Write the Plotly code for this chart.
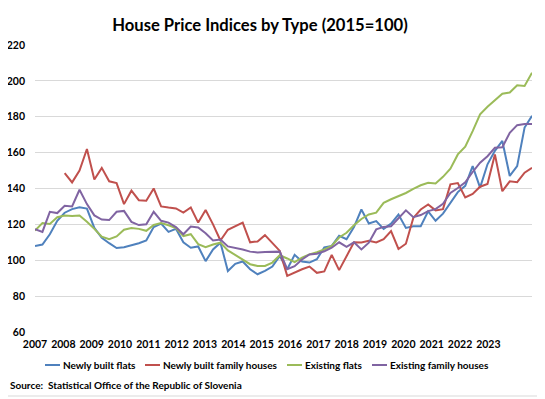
import plotly.graph_objects as go

# Quarterly observations 2007Q1 .. 2023Q4
years = [str(y) for y in range(2007, 2024)]
quarters = [f"{y}Q{q}" for y in range(2007, 2024) for q in range(1, 5)]

newly_built_flats = [
    108, 108.8, 114.5, 122, 126.5, 128.5, 129.5, 128.8, 118, 112.5,
    109.5, 106.8, 107.3, 108.3, 109.5, 111, 118.5, 120.5, 115.8, 117.5,
    110, 107, 107.7, 99.5, 106, 109.8, 94, 98, 99.3, 95,
    92.2, 94.1, 96.5, 102.4, 95, 103, 99.3, 98.7, 100.6, 107.1,
    108, 113.6, 111.7, 118.5, 128.3, 120.5, 121.8, 117.5, 120.4, 125.5,
    118, 119, 119, 127.3, 122, 126, 132, 138, 141.5, 152.5,
    140.5, 153.5, 161, 166.5, 147, 152.5, 174, 180.5,
]

newly_built_family_houses = [
    None, None, None, None,
    148.6, 143.4, 150, 162, 145, 151.5, 144, 143, 131.3, 138.8,
    133.5, 133.2, 140, 130, 129.4, 128.9, 126.6, 129.4, 121, 128,
    120, 111, 117, 119, 121, 110, 110.5, 114, 109.8, 105.2,
    91.3, 93.2, 95, 96.5, 93, 93.8, 103, 94.5, 102, 110,
    109.9, 110.8, 109.9, 111.7, 116.3, 106.3, 109.2, 123.6, 128.3, 131.1,
    127.8, 128.5, 142.3, 143, 135, 137, 141, 142.5, 159, 138.5,
    144, 143.5, 148.8, 151.5,
]

existing_flats = [
    116.5, 120.8, 120.2, 124, 124.9, 124.6, 124.9, 121.5, 117.5, 113.2,
    111.7, 113.3, 117, 118, 117.5, 116.4, 119.7, 120.7, 119.5, 118,
    113.5, 114.5, 109, 107.3, 108.8, 109.8, 105.5, 102.8, 100.3, 97.8,
    96.8, 96.8, 98.7, 102.8, 101, 99, 101.5, 103.3, 104.5, 106,
    108, 112.7, 115.3, 119.5, 123, 125.5, 126.5, 132, 134, 135.6,
    137.5, 139.8, 141.8, 143.2, 142.8, 146.5, 151, 159, 163.3, 172,
    181.4, 185.6, 189.3, 192.8, 193.5, 197.6, 197.2, 204.5,
]

existing_family_houses = [
    117.3, 115.8, 127, 126.3, 130.4, 130, 139.3, 131.3, 125, 122.7,
    122.4, 127, 127.5, 121.4, 119.6, 120.1, 127, 122, 121, 118.5,
    114.5, 118.8, 118.3, 115, 111, 111.5, 107.7, 107, 106, 104.8,
    104.3, 104.6, 104.6, 104.8, 95, 96.7, 100.4, 103.2, 103.6, 105,
    107, 110, 107.5, 110, 106, 109.8, 117.2, 118.6, 119, 123.2,
    127.8, 124, 125.2, 127.4, 128.5, 131.5, 137.5, 140.3, 143.5, 149.2,
    154.4, 158, 162.7, 163, 171, 175.3, 176, 176,
]

series_names = ["Newly built flats", "Newly built family houses",
                "Existing flats", "Existing family houses"]
series_values = [newly_built_flats, newly_built_family_houses,
                 existing_flats, existing_family_houses]
colors = ["#4F81BD", "#C0504D", "#9BBB59", "#8064A2"]

FONT = "Lato, 'Open Sans', sans-serif"
x_idx = list(range(len(quarters)))

# the page body adds an 8px offset; lay out in screen pixels and shift
OFF = 8
W, H = 545 - OFF, 399 - OFF
L, T = 35 - OFF, 45 - OFF
R, B = 545 - 532, 399 - 332
PW, PH = W - L - R, H - T - B


def px_x(p):  # screen pixel -> paper x
    return (p - OFF - L) / PW


def px_y(p):  # screen pixel -> paper y
    return (H - B - (p - OFF)) / PH


fig = go.Figure()
for name, vals, col in zip(series_names, series_values, colors):
    fig.add_trace(go.Scatter(
        x=x_idx, y=vals, mode="lines", name=name,
        line=dict(color=col, width=2), customdata=quarters,
        hovertemplate="%{customdata}: %{y}<extra>" + name + "</extra>",
        connectgaps=False, showlegend=False,
    ))

# label positions spread as in the original chart
n_last = len(quarters) - 1
tick_pos = [k * 3.82 for k in range(len(years))]

# custom legend (line sample + label) laid out like the original
legend_line_px = [45, 145, 287, 372]
legend_y_px = 365
shapes = []
annotations = []
for name, col, lx in zip(series_names, colors, legend_line_px):
    shapes.append(dict(type="line", xref="paper", yref="paper",
                       x0=px_x(lx), x1=px_x(lx + 15),
                       y0=px_y(legend_y_px), y1=px_y(legend_y_px),
                       line=dict(color=col, width=2)))
    annotations.append(dict(text="<b>" + name + "</b>", xref="paper",
                            yref="paper", x=px_x(lx + 15.5),
                            y=px_y(legend_y_px), xanchor="left",
                            yanchor="middle", showarrow=False,
                            font=dict(family=FONT, size=10, color="#000")))

annotations.append(dict(
    text="<b>Source:  Statistical Office of the Republic of Slovenia</b>",
    xref="paper", yref="paper", x=px_x(8), y=px_y(385),
    xanchor="left", yanchor="middle", showarrow=False,
    font=dict(family=FONT, size=10, color="#000000")))

# chart-area border (right and bottom edges fall inside the page)
shapes.append(dict(type="line", xref="paper", yref="paper",
                   x0=px_x(541), x1=px_x(541), y0=px_y(396), y1=px_y(8),
                   line=dict(color="#D9D9D9", width=1)))
shapes.append(dict(type="line", xref="paper", yref="paper",
                   x0=px_x(8), x1=px_x(541), y0=px_y(396), y1=px_y(396),
                   line=dict(color="#D9D9D9", width=1)))

fig.update_layout(
    width=W, height=H,
    margin=dict(l=L, r=R, t=T, b=B, autoexpand=False),
    paper_bgcolor="white", plot_bgcolor="white",
    font=dict(family=FONT, size=11, color="#000000"),
    title=dict(text="<b>House Price Indices by Type (2015=100)</b>",
               x=(260 - OFF) / W, xanchor="center",
               y=1 - (25 - OFF) / H, yanchor="middle",
               font=dict(family=FONT, size=16.6, color="#000000")),
    xaxis=dict(range=[0, n_last], tickvals=tick_pos, ticktext=years,
               showgrid=False, zeroline=False, showline=False, ticks="",
               tickfont=dict(family=FONT, size=10.5, weight="bold"),
               ticklabelstandoff=4, fixedrange=True, automargin=False),
    yaxis=dict(range=[60, 220], dtick=20, tick0=60,
               showgrid=True, gridcolor="#D9D9D9", gridwidth=1,
               zeroline=False, showline=False, ticks="",
               tickfont=dict(family=FONT, size=10.5, weight="bold"),
               ticklabelstandoff=9, fixedrange=True, automargin=False),
    showlegend=False,
    annotations=annotations,
    shapes=shapes,
)

fig.write_html("out.html")
